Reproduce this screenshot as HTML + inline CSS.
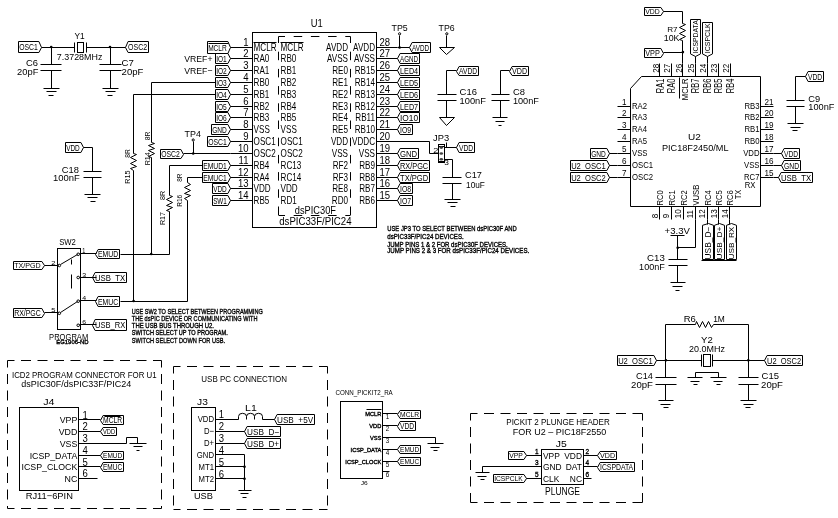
<!DOCTYPE html>
<html><head><meta charset="utf-8"><style>
html,body{margin:0;padding:0;background:#fff;}
body{width:838px;height:518px;overflow:hidden;}
svg{display:block;will-change:transform;}
svg *{stroke:#000;fill:none;stroke-width:1;}
svg text{stroke:none;fill:#000;font-family:"Liberation Sans",sans-serif;}
svg .k{fill:#000;stroke:none;}
svg text.b{}
svg text.n{font-weight:normal;stroke:#000;stroke-width:0.35px;}
</style></head><body>
<svg width="838" height="518" viewBox="0 0 838 518">
<polygon points="18.5,41.5 38.9,41.5 41.5,47.5 38.9,52.5 18.5,52.5"/>
<text class="b" x="19.13" y="50" font-size="8.7" textLength="18.64" lengthAdjust="spacingAndGlyphs">OSC1</text>
<line x1="41.5" y1="47.5" x2="74.5" y2="47.5"/>
<circle cx="51.2" cy="47" r="1.3" class="k"/>
<line x1="74.5" y1="42.5" x2="74.5" y2="52.5"/>
<rect x="77.5" y="42.5" width="6" height="10"/>
<line x1="86.5" y1="42.5" x2="86.5" y2="52.5"/>
<line x1="86.5" y1="47.5" x2="125.5" y2="47.5"/>
<circle cx="110" cy="47" r="1.3" class="k"/>
<polygon points="128.1,41.5 148.5,41.5 148.5,52.5 128.1,52.5 125.5,47.5"/>
<text class="b" x="128.03" y="50" font-size="8.7" textLength="19.14" lengthAdjust="spacingAndGlyphs">OSC2</text>
<text class="t" x="74.49" y="39.05" font-size="9.28" textLength="10.21" lengthAdjust="spacingAndGlyphs">Y1</text>
<text class="t" x="56.83" y="60.35" font-size="8.7" textLength="45.54" lengthAdjust="spacingAndGlyphs">7.3728MHz</text>
<line x1="51.5" y1="47.5" x2="51.5" y2="64.5"/>
<line x1="40.5" y1="64.5" x2="61.5" y2="64.5"/>
<line x1="40.5" y1="70.5" x2="61.5" y2="70.5"/>
<line x1="51.5" y1="70.5" x2="51.5" y2="88.5"/>
<line x1="43.5" y1="88.5" x2="59.5" y2="88.5"/>
<line x1="46.5" y1="91.5" x2="56.5" y2="91.5"/>
<line x1="48.5" y1="95.5" x2="53.5" y2="95.5"/>
<text class="t" x="26.13" y="66.15" font-size="8.7" textLength="11.94" lengthAdjust="spacingAndGlyphs">C6</text>
<text class="t" x="17.11" y="74.95" font-size="8.99" textLength="21.28" lengthAdjust="spacingAndGlyphs">20pF</text>
<line x1="110.5" y1="47.5" x2="110.5" y2="64.5"/>
<line x1="99.5" y1="64.5" x2="121.5" y2="64.5"/>
<line x1="99.5" y1="70.5" x2="121.5" y2="70.5"/>
<line x1="110.5" y1="70.5" x2="110.5" y2="88.5"/>
<line x1="102.5" y1="88.5" x2="118.5" y2="88.5"/>
<line x1="105.5" y1="91.5" x2="115.5" y2="91.5"/>
<line x1="107.5" y1="95.5" x2="112.5" y2="95.5"/>
<text class="t" x="121.63" y="66.15" font-size="8.7" textLength="12.24" lengthAdjust="spacingAndGlyphs">C7</text>
<text class="t" x="121.61" y="74.95" font-size="8.99" textLength="21.78" lengthAdjust="spacingAndGlyphs">20pF</text>
<rect x="252.5" y="32.5" width="124" height="195"/>
<text class="t" x="310.64" y="26.65" font-size="10.14" textLength="12.02" lengthAdjust="spacingAndGlyphs">U1</text>
<line x1="278.5" y1="36.5" x2="350.5" y2="36.5" stroke-dasharray="8.5 8.7" stroke-dashoffset="2"/>
<line x1="278.5" y1="215.5" x2="350.5" y2="215.5" stroke-dasharray="8.5 8.7" stroke-dashoffset="2"/>
<line x1="278.5" y1="36.5" x2="278.5" y2="215.5" stroke-dasharray="8.5 8.7" stroke-dashoffset="2"/>
<line x1="350.5" y1="36.5" x2="350.5" y2="215.5" stroke-dasharray="8.5 8.7" stroke-dashoffset="2"/>
<text class="t" transform="translate(253.6,50.7) scale(0.78,1)" font-size="10.4">MCLR</text>
<text class="t" transform="translate(280.6,50.7) scale(0.78,1)" font-size="10.4">MCLR</text>
<text class="t" transform="translate(348,50.7) scale(0.78,1)" font-size="10.4" text-anchor="end">AVDD</text>
<text class="t" transform="translate(375,50.7) scale(0.78,1)" font-size="10.4" text-anchor="end">AVDD</text>
<line x1="230.5" y1="47.5" x2="252.5" y2="47.5"/>
<line x1="376.5" y1="47.5" x2="397.5" y2="47.5"/>
<text class="t" transform="translate(248.5,45.9) scale(0.9,1)" font-size="10.6" text-anchor="end">1</text>
<text class="t" transform="translate(379.5,45.9) scale(0.9,1)" font-size="10.6">28</text>
<text class="t" transform="translate(253.6,61.7) scale(0.78,1)" font-size="10.4">RA0</text>
<text class="t" transform="translate(280.6,61.7) scale(0.78,1)" font-size="10.4">RB0</text>
<text class="t" transform="translate(348,61.7) scale(0.78,1)" font-size="10.4" text-anchor="end">AVSS</text>
<text class="t" transform="translate(375,61.7) scale(0.78,1)" font-size="10.4" text-anchor="end">AVSS</text>
<line x1="230.5" y1="58.5" x2="252.5" y2="58.5"/>
<line x1="376.5" y1="58.5" x2="397.5" y2="58.5"/>
<text class="t" transform="translate(248.5,56.9) scale(0.9,1)" font-size="10.6" text-anchor="end">2</text>
<text class="t" transform="translate(379.5,56.9) scale(0.9,1)" font-size="10.6">27</text>
<text class="t" transform="translate(253.6,73.7) scale(0.78,1)" font-size="10.4">RA1</text>
<text class="t" transform="translate(280.6,73.7) scale(0.78,1)" font-size="10.4">RB1</text>
<text class="t" transform="translate(348,73.7) scale(0.78,1)" font-size="10.4" text-anchor="end">RE0</text>
<text class="t" transform="translate(375,73.7) scale(0.78,1)" font-size="10.4" text-anchor="end">RB15</text>
<line x1="230.5" y1="70.5" x2="252.5" y2="70.5"/>
<line x1="376.5" y1="70.5" x2="397.5" y2="70.5"/>
<text class="t" transform="translate(248.5,68.9) scale(0.9,1)" font-size="10.6" text-anchor="end">3</text>
<text class="t" transform="translate(379.5,68.9) scale(0.9,1)" font-size="10.6">26</text>
<text class="t" transform="translate(253.6,85.7) scale(0.78,1)" font-size="10.4">RB0</text>
<text class="t" transform="translate(280.6,85.7) scale(0.78,1)" font-size="10.4">RB2</text>
<text class="t" transform="translate(348,85.7) scale(0.78,1)" font-size="10.4" text-anchor="end">RE1</text>
<text class="t" transform="translate(375,85.7) scale(0.78,1)" font-size="10.4" text-anchor="end">RB14</text>
<line x1="230.5" y1="82.5" x2="252.5" y2="82.5"/>
<line x1="376.5" y1="82.5" x2="397.5" y2="82.5"/>
<text class="t" transform="translate(248.5,80.9) scale(0.9,1)" font-size="10.6" text-anchor="end">4</text>
<text class="t" transform="translate(379.5,80.9) scale(0.9,1)" font-size="10.6">25</text>
<text class="t" transform="translate(253.6,97.7) scale(0.78,1)" font-size="10.4">RB1</text>
<text class="t" transform="translate(280.6,97.7) scale(0.78,1)" font-size="10.4">RB3</text>
<text class="t" transform="translate(348,97.7) scale(0.78,1)" font-size="10.4" text-anchor="end">RE2</text>
<text class="t" transform="translate(375,97.7) scale(0.78,1)" font-size="10.4" text-anchor="end">RB13</text>
<line x1="230.5" y1="94.5" x2="252.5" y2="94.5"/>
<line x1="376.5" y1="94.5" x2="397.5" y2="94.5"/>
<text class="t" transform="translate(248.5,92.9) scale(0.9,1)" font-size="10.6" text-anchor="end">5</text>
<text class="t" transform="translate(379.5,92.9) scale(0.9,1)" font-size="10.6">24</text>
<text class="t" transform="translate(253.6,109.7) scale(0.78,1)" font-size="10.4">RB2</text>
<text class="t" transform="translate(280.6,109.7) scale(0.78,1)" font-size="10.4">RB4</text>
<text class="t" transform="translate(348,109.7) scale(0.78,1)" font-size="10.4" text-anchor="end">RE3</text>
<text class="t" transform="translate(375,109.7) scale(0.78,1)" font-size="10.4" text-anchor="end">RB12</text>
<line x1="230.5" y1="106.5" x2="252.5" y2="106.5"/>
<line x1="376.5" y1="106.5" x2="397.5" y2="106.5"/>
<text class="t" transform="translate(248.5,104.9) scale(0.9,1)" font-size="10.6" text-anchor="end">6</text>
<text class="t" transform="translate(379.5,104.9) scale(0.9,1)" font-size="10.6">23</text>
<text class="t" transform="translate(253.6,120.7) scale(0.78,1)" font-size="10.4">RB3</text>
<text class="t" transform="translate(280.6,120.7) scale(0.78,1)" font-size="10.4">RB5</text>
<text class="t" transform="translate(348,120.7) scale(0.78,1)" font-size="10.4" text-anchor="end">RE4</text>
<text class="t" transform="translate(375,120.7) scale(0.78,1)" font-size="10.4" text-anchor="end">RB11</text>
<line x1="230.5" y1="117.5" x2="252.5" y2="117.5"/>
<line x1="376.5" y1="117.5" x2="397.5" y2="117.5"/>
<text class="t" transform="translate(248.5,115.9) scale(0.9,1)" font-size="10.6" text-anchor="end">7</text>
<text class="t" transform="translate(379.5,115.9) scale(0.9,1)" font-size="10.6">22</text>
<text class="t" transform="translate(253.6,132.7) scale(0.78,1)" font-size="10.4">VSS</text>
<text class="t" transform="translate(280.6,132.7) scale(0.78,1)" font-size="10.4">VSS</text>
<text class="t" transform="translate(348,132.7) scale(0.78,1)" font-size="10.4" text-anchor="end">RE5</text>
<text class="t" transform="translate(375,132.7) scale(0.78,1)" font-size="10.4" text-anchor="end">RB10</text>
<line x1="230.5" y1="129.5" x2="252.5" y2="129.5"/>
<line x1="376.5" y1="129.5" x2="397.5" y2="129.5"/>
<text class="t" transform="translate(248.5,127.9) scale(0.9,1)" font-size="10.6" text-anchor="end">8</text>
<text class="t" transform="translate(379.5,127.9) scale(0.9,1)" font-size="10.6">21</text>
<text class="t" transform="translate(253.6,144.7) scale(0.78,1)" font-size="10.4">OSC1</text>
<text class="t" transform="translate(280.6,144.7) scale(0.78,1)" font-size="10.4">OSC1</text>
<text class="t" transform="translate(348,144.7) scale(0.78,1)" font-size="10.4" text-anchor="end">VDD</text>
<text class="t" transform="translate(375,144.7) scale(0.78,1)" font-size="10.4" text-anchor="end">VDDC</text>
<line x1="230.5" y1="141.5" x2="252.5" y2="141.5"/>
<line x1="376.5" y1="141.5" x2="397.5" y2="141.5"/>
<text class="t" transform="translate(248.5,139.9) scale(0.9,1)" font-size="10.6" text-anchor="end">9</text>
<text class="t" transform="translate(379.5,139.9) scale(0.9,1)" font-size="10.6">20</text>
<text class="t" transform="translate(253.6,156.7) scale(0.78,1)" font-size="10.4">OSC2</text>
<text class="t" transform="translate(280.6,156.7) scale(0.78,1)" font-size="10.4">OSC2</text>
<text class="t" transform="translate(348,156.7) scale(0.78,1)" font-size="10.4" text-anchor="end">VSS</text>
<text class="t" transform="translate(375,156.7) scale(0.78,1)" font-size="10.4" text-anchor="end">VSS</text>
<line x1="230.5" y1="153.5" x2="252.5" y2="153.5"/>
<line x1="376.5" y1="153.5" x2="397.5" y2="153.5"/>
<text class="t" transform="translate(248.5,151.9) scale(0.9,1)" font-size="10.6" text-anchor="end">10</text>
<text class="t" transform="translate(379.5,151.9) scale(0.9,1)" font-size="10.6">19</text>
<text class="t" transform="translate(253.6,168.7) scale(0.78,1)" font-size="10.4">RB4</text>
<text class="t" transform="translate(280.6,168.7) scale(0.78,1)" font-size="10.4">RC13</text>
<text class="t" transform="translate(348,168.7) scale(0.78,1)" font-size="10.4" text-anchor="end">RF2</text>
<text class="t" transform="translate(375,168.7) scale(0.78,1)" font-size="10.4" text-anchor="end">RB9</text>
<line x1="230.5" y1="165.5" x2="252.5" y2="165.5"/>
<line x1="376.5" y1="165.5" x2="397.5" y2="165.5"/>
<text class="t" transform="translate(248.5,163.9) scale(0.9,1)" font-size="10.6" text-anchor="end">11</text>
<text class="t" transform="translate(379.5,163.9) scale(0.9,1)" font-size="10.6">18</text>
<text class="t" transform="translate(253.6,180.7) scale(0.78,1)" font-size="10.4">RA4</text>
<text class="t" transform="translate(280.6,180.7) scale(0.78,1)" font-size="10.4">RC14</text>
<text class="t" transform="translate(348,180.7) scale(0.78,1)" font-size="10.4" text-anchor="end">RF3</text>
<text class="t" transform="translate(375,180.7) scale(0.78,1)" font-size="10.4" text-anchor="end">RB8</text>
<line x1="230.5" y1="177.5" x2="252.5" y2="177.5"/>
<line x1="376.5" y1="177.5" x2="397.5" y2="177.5"/>
<text class="t" transform="translate(248.5,175.9) scale(0.9,1)" font-size="10.6" text-anchor="end">12</text>
<text class="t" transform="translate(379.5,175.9) scale(0.9,1)" font-size="10.6">17</text>
<text class="t" transform="translate(253.6,191.7) scale(0.78,1)" font-size="10.4">VDD</text>
<text class="t" transform="translate(280.6,191.7) scale(0.78,1)" font-size="10.4">VDD</text>
<text class="t" transform="translate(348,191.7) scale(0.78,1)" font-size="10.4" text-anchor="end">RE8</text>
<text class="t" transform="translate(375,191.7) scale(0.78,1)" font-size="10.4" text-anchor="end">RB7</text>
<line x1="230.5" y1="188.5" x2="252.5" y2="188.5"/>
<line x1="376.5" y1="188.5" x2="397.5" y2="188.5"/>
<text class="t" transform="translate(248.5,186.9) scale(0.9,1)" font-size="10.6" text-anchor="end">13</text>
<text class="t" transform="translate(379.5,186.9) scale(0.9,1)" font-size="10.6">16</text>
<text class="t" transform="translate(253.6,203.7) scale(0.78,1)" font-size="10.4">RB5</text>
<text class="t" transform="translate(280.6,203.7) scale(0.78,1)" font-size="10.4">RD1</text>
<text class="t" transform="translate(348,203.7) scale(0.78,1)" font-size="10.4" text-anchor="end">RD0</text>
<text class="t" transform="translate(375,203.7) scale(0.78,1)" font-size="10.4" text-anchor="end">RB6</text>
<line x1="230.5" y1="200.5" x2="252.5" y2="200.5"/>
<line x1="376.5" y1="200.5" x2="397.5" y2="200.5"/>
<text class="t" transform="translate(248.5,198.9) scale(0.9,1)" font-size="10.6" text-anchor="end">14</text>
<text class="t" transform="translate(379.5,198.9) scale(0.9,1)" font-size="10.6">15</text>
<line x1="253.5" y1="42.5" x2="276.5" y2="42.5"/>
<line x1="280.5" y1="42.5" x2="303.5" y2="42.5"/>
<text class="t" x="294.83" y="213.95" font-size="10.29" textLength="41.13" lengthAdjust="spacingAndGlyphs">dsPIC30F</text>
<text class="t" x="279.22" y="225.05" font-size="10.58" textLength="72.27" lengthAdjust="spacingAndGlyphs">dsPIC33F/PIC24</text>
<polygon points="207.5,41.5 227.9,41.5 230.5,47.5 227.9,53.5 207.5,53.5"/>
<text class="b" x="208.13" y="50.5" font-size="8.7" textLength="18.64" lengthAdjust="spacingAndGlyphs">MCLR</text>
<line x1="208.5" y1="43.5" x2="228.5" y2="43.5"/>
<polygon points="215.5,53.5 227.9,53.5 230.5,58.5 227.9,63.5 215.5,63.5"/>
<text class="b" x="216.13" y="61.5" font-size="8.7" textLength="10.64" lengthAdjust="spacingAndGlyphs">IO1</text>
<polygon points="215.5,65.5 227.9,65.5 230.5,70.5 227.9,75.5 215.5,75.5"/>
<text class="b" x="216.13" y="73.5" font-size="8.7" textLength="10.64" lengthAdjust="spacingAndGlyphs">IO2</text>
<polygon points="215.5,77.5 227.9,77.5 230.5,82.5 227.9,87.5 215.5,87.5"/>
<text class="b" x="216.13" y="85.5" font-size="8.7" textLength="10.64" lengthAdjust="spacingAndGlyphs">IO3</text>
<polygon points="215.5,89.5 227.9,89.5 230.5,94.5 227.9,99.5 215.5,99.5"/>
<text class="b" x="216.13" y="97.5" font-size="8.7" textLength="10.64" lengthAdjust="spacingAndGlyphs">IO4</text>
<polygon points="215.5,101.5 227.9,101.5 230.5,106.5 227.9,111.5 215.5,111.5"/>
<text class="b" x="216.13" y="109.5" font-size="8.7" textLength="10.64" lengthAdjust="spacingAndGlyphs">IO5</text>
<polygon points="215.5,112.5 227.9,112.5 230.5,117.5 227.9,122.5 215.5,122.5"/>
<text class="b" x="216.13" y="120.5" font-size="8.7" textLength="10.64" lengthAdjust="spacingAndGlyphs">IO6</text>
<polygon points="211.5,124.5 227.9,124.5 230.5,129.5 227.9,134.5 211.5,134.5"/>
<text class="b" x="212.13" y="132.5" font-size="8.7" textLength="14.64" lengthAdjust="spacingAndGlyphs">GND</text>
<polygon points="207.5,136.5 227.9,136.5 230.5,141.5 227.9,146.5 207.5,146.5"/>
<text class="b" x="208.13" y="144.5" font-size="8.7" textLength="18.64" lengthAdjust="spacingAndGlyphs">OSC1</text>
<line x1="183.5" y1="153.5" x2="230.5" y2="153.5"/>
<polygon points="202.5,160.5 227.9,160.5 230.5,165.5 227.9,170.5 202.5,170.5"/>
<text class="b" x="203.13" y="168.5" font-size="8.7" textLength="23.64" lengthAdjust="spacingAndGlyphs">EMUD1</text>
<polygon points="202.5,172.5 227.9,172.5 230.5,177.5 227.9,182.5 202.5,182.5"/>
<text class="b" x="203.13" y="180.5" font-size="8.7" textLength="23.64" lengthAdjust="spacingAndGlyphs">EMUC1</text>
<polygon points="212.5,183.5 227.9,183.5 230.5,188.5 227.9,193.5 212.5,193.5"/>
<text class="b" x="213.13" y="191.5" font-size="8.7" textLength="13.64" lengthAdjust="spacingAndGlyphs">VDD</text>
<polygon points="212.5,195.5 227.9,195.5 230.5,200.5 227.9,205.5 212.5,205.5"/>
<text class="b" x="213.13" y="203.5" font-size="8.7" textLength="13.64" lengthAdjust="spacingAndGlyphs">SW1</text>
<text class="t" x="184.29" y="62.05" font-size="9.28" textLength="28.21" lengthAdjust="spacingAndGlyphs">VREF+</text>
<text class="t" x="184.29" y="74.35" font-size="9.28" textLength="28.21" lengthAdjust="spacingAndGlyphs">VREF−</text>
<line x1="397.5" y1="47.5" x2="409.5" y2="47.5"/>
<polygon points="412.1,42.5 430.5,42.5 430.5,52.5 412.1,52.5 409.5,47.5"/>
<text class="b" x="412.03" y="50.5" font-size="8.7" textLength="17.14" lengthAdjust="spacingAndGlyphs">AVDD</text>
<polygon points="400.1,53.5 419.5,53.5 419.5,63.5 400.1,63.5 397.5,58.5"/>
<text class="b" x="400.03" y="61.5" font-size="8.7" textLength="18.14" lengthAdjust="spacingAndGlyphs">AGND</text>
<polygon points="400.1,65.5 419.5,65.5 419.5,75.5 400.1,75.5 397.5,70.5"/>
<text class="b" x="400.03" y="73.5" font-size="8.7" textLength="18.14" lengthAdjust="spacingAndGlyphs">LED4</text>
<polygon points="400.1,77.5 419.5,77.5 419.5,87.5 400.1,87.5 397.5,82.5"/>
<text class="b" x="400.03" y="85.5" font-size="8.7" textLength="18.14" lengthAdjust="spacingAndGlyphs">LED5</text>
<polygon points="400.1,89.5 419.5,89.5 419.5,99.5 400.1,99.5 397.5,94.5"/>
<text class="b" x="400.03" y="97.5" font-size="8.7" textLength="18.14" lengthAdjust="spacingAndGlyphs">LED6</text>
<polygon points="400.1,101.5 419.5,101.5 419.5,111.5 400.1,111.5 397.5,106.5"/>
<text class="b" x="400.03" y="109.5" font-size="8.7" textLength="18.14" lengthAdjust="spacingAndGlyphs">LED7</text>
<polygon points="400.1,112.5 419.5,112.5 419.5,122.5 400.1,122.5 397.5,117.5"/>
<text class="b" x="400.03" y="120.5" font-size="8.7" textLength="18.14" lengthAdjust="spacingAndGlyphs">IO10</text>
<polygon points="400.1,124.5 412.5,124.5 412.5,134.5 400.1,134.5 397.5,129.5"/>
<text class="b" x="400.03" y="132.5" font-size="8.7" textLength="11.14" lengthAdjust="spacingAndGlyphs">IO9</text>
<polygon points="400.1,148.5 418.5,148.5 418.5,158.5 400.1,158.5 397.5,153.5"/>
<text class="b" x="400.03" y="156.5" font-size="8.7" textLength="17.14" lengthAdjust="spacingAndGlyphs">GND</text>
<polygon points="400.1,160.5 429.5,160.5 429.5,170.5 400.1,170.5 397.5,165.5"/>
<text class="b" x="400.03" y="168.5" font-size="8.7" textLength="28.14" lengthAdjust="spacingAndGlyphs">RX/PGC</text>
<polygon points="400.1,172.5 429.5,172.5 429.5,182.5 400.1,182.5 397.5,177.5"/>
<text class="b" x="400.03" y="180.5" font-size="8.7" textLength="28.14" lengthAdjust="spacingAndGlyphs">TX/PGD</text>
<polygon points="400.1,183.5 412.5,183.5 412.5,193.5 400.1,193.5 397.5,188.5"/>
<text class="b" x="400.03" y="191.5" font-size="8.7" textLength="11.14" lengthAdjust="spacingAndGlyphs">IO8</text>
<polygon points="400.1,195.5 412.5,195.5 412.5,205.5 400.1,205.5 397.5,200.5"/>
<text class="b" x="400.03" y="203.5" font-size="8.7" textLength="11.14" lengthAdjust="spacingAndGlyphs">IO7</text>
<circle cx="399.6" cy="33.8" r="1.1"/>
<line x1="399.5" y1="35.5" x2="399.5" y2="47.5"/>
<circle cx="399.6" cy="47.5" r="1.3" class="k"/>
<text class="t" x="391.6" y="31.35" font-size="9.13" textLength="16.2" lengthAdjust="spacingAndGlyphs">TP5</text>
<circle cx="446.8" cy="33.8" r="1.1"/>
<line x1="446.5" y1="35.5" x2="446.5" y2="47.5"/>
<polygon points="439.5,47.5 454.5,47.5 446.5,54.5"/>
<text class="t" x="438.6" y="31.35" font-size="9.13" textLength="16.1" lengthAdjust="spacingAndGlyphs">TP6</text>
<polygon points="459.1,66.5 478.5,66.5 478.5,75.5 459.1,75.5 456.5,71.5"/>
<text class="b" x="459.03" y="74" font-size="8.7" textLength="18.14" lengthAdjust="spacingAndGlyphs">AVDD</text>
<polyline points="456.5,70.5 446.5,70.5 446.5,94.5"/>
<line x1="437.5" y1="94.5" x2="456.5" y2="94.5"/>
<line x1="437.5" y1="100.5" x2="456.5" y2="100.5"/>
<line x1="446.5" y1="100.5" x2="446.5" y2="117.5"/>
<polygon points="439.5,117.5 454.5,117.5 446.5,125.5"/>
<text class="t" x="459.6" y="95.35" font-size="9.13" textLength="17.3" lengthAdjust="spacingAndGlyphs">C16</text>
<text class="t" x="459.59" y="104.05" font-size="9.28" textLength="26.31" lengthAdjust="spacingAndGlyphs">100nF</text>
<polygon points="512.1,66.5 528.5,66.5 528.5,75.5 512.1,75.5 509.5,71.5"/>
<text class="b" x="512.03" y="74" font-size="8.7" textLength="15.14" lengthAdjust="spacingAndGlyphs">VDD</text>
<polyline points="509.5,70.5 500.5,70.5 500.5,94.5"/>
<line x1="491.5" y1="94.5" x2="509.5" y2="94.5"/>
<line x1="491.5" y1="100.5" x2="509.5" y2="100.5"/>
<line x1="500.5" y1="100.5" x2="500.5" y2="117.5"/>
<line x1="492.5" y1="117.5" x2="507.5" y2="117.5"/>
<line x1="495.5" y1="121.5" x2="504.5" y2="121.5"/>
<line x1="498.5" y1="125.5" x2="501.5" y2="125.5"/>
<text class="t" x="512.9" y="95.35" font-size="9.13" textLength="12" lengthAdjust="spacingAndGlyphs">C8</text>
<text class="t" x="512.89" y="104.05" font-size="9.28" textLength="26.01" lengthAdjust="spacingAndGlyphs">100nF</text>
<polyline points="396.5,141.5 429.5,141.5 429.5,153.5 438.5,153.5"/>
<rect x="438.5" y="144.5" width="6" height="18"/>
<line x1="438.5" y1="146.5" x2="444.5" y2="146.5"/>
<line x1="438.5" y1="161.5" x2="444.5" y2="161.5"/>
<ellipse cx="441.3" cy="147.6" rx="1.8" ry="1.3" style="fill:#444;stroke:none"/>
<ellipse cx="441.3" cy="153.5" rx="1.8" ry="1.3" style="fill:#444;stroke:none"/>
<ellipse cx="441.3" cy="159.2" rx="1.8" ry="1.3" style="fill:#444;stroke:none"/>
<line x1="444.5" y1="147.5" x2="456.5" y2="147.5"/>
<line x1="446.5" y1="142.5" x2="446.5" y2="147.5"/>
<polyline points="444.5,159.5 452.5,159.5 452.5,177.5"/>
<polygon points="459.1,142.5 474.5,142.5 474.5,152.5 459.1,152.5 456.5,147.5"/>
<text class="b" x="459.03" y="150.5" font-size="8.7" textLength="14.14" lengthAdjust="spacingAndGlyphs">VDD</text>
<text class="t" x="433.01" y="140.85" font-size="8.99" textLength="16.08" lengthAdjust="spacingAndGlyphs">JP3</text>
<text class="t" x="433.15" y="152.85" font-size="6.67" textLength="5.1" lengthAdjust="spacingAndGlyphs">2</text>
<text class="t" x="444.2" y="165.15" font-size="7.54" textLength="4.6" lengthAdjust="spacingAndGlyphs">3</text>
<line x1="442.5" y1="177.5" x2="461.5" y2="177.5"/>
<line x1="442.5" y1="183.5" x2="461.5" y2="183.5"/>
<line x1="452.5" y1="183.5" x2="452.5" y2="199.5"/>
<line x1="444.5" y1="199.5" x2="460.5" y2="199.5"/>
<line x1="447.5" y1="202.5" x2="457.5" y2="202.5"/>
<line x1="450.5" y1="206.5" x2="455.5" y2="206.5"/>
<text class="t" x="465.11" y="178.35" font-size="8.99" textLength="16.78" lengthAdjust="spacingAndGlyphs">C17</text>
<text class="t" x="466.11" y="187.85" font-size="8.99" textLength="18.78" lengthAdjust="spacingAndGlyphs">10uF</text>
<text class="n" x="387.22" y="231.35" font-size="7.25" textLength="129.57" lengthAdjust="spacingAndGlyphs">USE JP3 TO SELECT BETWEEN dsPIC30F AND</text>
<text class="n" x="387.22" y="239.35" font-size="7.25" textLength="76.57" lengthAdjust="spacingAndGlyphs">dsPIC33F/PIC24 DEVICES.</text>
<text class="n" x="387.22" y="247.05" font-size="7.1" textLength="120.55" lengthAdjust="spacingAndGlyphs">JUMP PINS 1 &amp; 2 FOR dsPIC30F DEVICES.</text>
<text class="n" x="387.22" y="253.15" font-size="7.1" textLength="142.05" lengthAdjust="spacingAndGlyphs">JUMP PINS 2 &amp; 3 FOR dsPIC33F/PIC24 DEVICES.</text>
<polygon points="65.5,142.5 80.9,142.5 83.5,147.5 80.9,152.5 65.5,152.5"/>
<text class="b" x="66.13" y="150.5" font-size="8.7" textLength="13.64" lengthAdjust="spacingAndGlyphs">VDD</text>
<polyline points="83.5,147.5 92.5,147.5 92.5,171.5"/>
<line x1="83.5" y1="171.5" x2="101.5" y2="171.5"/>
<line x1="83.5" y1="177.5" x2="101.5" y2="177.5"/>
<line x1="92.5" y1="177.5" x2="92.5" y2="194.5"/>
<line x1="84.5" y1="194.5" x2="100.5" y2="194.5"/>
<line x1="87.5" y1="197.5" x2="97.5" y2="197.5"/>
<line x1="90.5" y1="201.5" x2="95.5" y2="201.5"/>
<text class="t" x="61.77" y="172.85" font-size="9.71" textLength="17.17" lengthAdjust="spacingAndGlyphs">C18</text>
<text class="t" x="53.11" y="181.35" font-size="8.99" textLength="26.78" lengthAdjust="spacingAndGlyphs">100nF</text>
<polyline points="215.5,82.5 151.5,82.5 151.5,142.5"/>
<polyline points="151.5,142.5 154.5,143.5 148.5,145.5 154.5,148.5 148.5,150.5 154.5,153.5 148.5,156.5 151.5,157.5"/>
<polyline points="151.5,157.5 151.5,254.5"/>
<polyline points="215.5,94.5 133.5,94.5 133.5,153.5"/>
<polyline points="133.5,153.5 136.5,154.5 130.5,157.5 136.5,160.5 130.5,163.5 136.5,166.5 130.5,168.5 133.5,170.5"/>
<polyline points="133.5,170.5 133.5,301.5"/>
<text class="t" transform="translate(129.85,157.35) rotate(-90)" x="-0.4" y="0" font-size="6.67" textLength="8.5" lengthAdjust="spacingAndGlyphs">8R</text>
<text class="t" transform="translate(129.85,183.35) rotate(-90)" x="-0.4" y="0" font-size="6.67" textLength="13.2" lengthAdjust="spacingAndGlyphs">R15</text>
<text class="t" transform="translate(149.85,139.85) rotate(-90)" x="-0.41" y="0" font-size="6.81" textLength="8.72" lengthAdjust="spacingAndGlyphs">8R</text>
<text class="t" transform="translate(149.85,164.95) rotate(-90)" x="-0.41" y="0" font-size="6.81" textLength="13.12" lengthAdjust="spacingAndGlyphs">R14</text>
<polygon points="160.5,149.5 180.9,149.5 183.5,154.5 180.9,158.5 160.5,158.5"/>
<text class="b" x="161.13" y="157" font-size="8.7" textLength="18.64" lengthAdjust="spacingAndGlyphs">OSC2</text>
<circle cx="193.2" cy="140" r="1.1"/>
<line x1="193.5" y1="141.5" x2="193.5" y2="153.5"/>
<circle cx="193.2" cy="153.5" r="1.3" class="k"/>
<text class="t" x="184.6" y="137.35" font-size="9.13" textLength="16.3" lengthAdjust="spacingAndGlyphs">TP4</text>
<polyline points="202.5,165.5 169.5,165.5 169.5,195.5"/>
<polyline points="169.5,195.5 172.5,196.5 166.5,199.5 172.5,202.5 166.5,205.5 172.5,207.5 166.5,210.5 169.5,211.5"/>
<polyline points="169.5,211.5 169.5,254.5"/>
<text class="t" transform="translate(165.35,199.65) rotate(-90)" x="-0.38" y="0" font-size="6.38" textLength="9.17" lengthAdjust="spacingAndGlyphs">8R</text>
<text class="t" transform="translate(165.35,224.75) rotate(-90)" x="-0.38" y="0" font-size="6.38" textLength="13.07" lengthAdjust="spacingAndGlyphs">R17</text>
<polyline points="202.5,177.5 187.5,177.5 187.5,182.5"/>
<polyline points="187.5,182.5 190.5,184.5 184.5,187.5 190.5,190.5 184.5,193.5 190.5,195.5 184.5,198.5 187.5,200.5"/>
<polyline points="187.5,200.5 187.5,301.5"/>
<text class="t" transform="translate(182.35,181.35) rotate(-90)" x="-0.38" y="0" font-size="6.38" textLength="8.27" lengthAdjust="spacingAndGlyphs">8R</text>
<text class="t" transform="translate(182.35,206.35) rotate(-90)" x="-0.38" y="0" font-size="6.38" textLength="11.97" lengthAdjust="spacingAndGlyphs">R16</text>
<rect x="57.5" y="248.5" width="23" height="81"/>
<text class="t" x="59.15" y="245.35" font-size="8.26" textLength="16.69" lengthAdjust="spacingAndGlyphs">SW2</text>
<circle cx="78.2" cy="254.3" r="1.3"/>
<line x1="79.5" y1="253.5" x2="96.5" y2="253.5"/>
<circle cx="78.2" cy="277.5" r="1.3"/>
<line x1="79.5" y1="277.5" x2="96.5" y2="277.5"/>
<circle cx="78.2" cy="301.2" r="1.3"/>
<line x1="79.5" y1="300.5" x2="96.5" y2="300.5"/>
<circle cx="78.2" cy="325.3" r="1.3"/>
<line x1="79.5" y1="324.5" x2="96.5" y2="324.5"/>
<circle cx="59.3" cy="265.5" r="1.3"/>
<line x1="44.5" y1="265.5" x2="58.5" y2="265.5"/>
<circle cx="59.3" cy="313.3" r="1.3"/>
<line x1="44.5" y1="312.5" x2="58.5" y2="312.5"/>
<line x1="60.5" y1="264.5" x2="77.5" y2="254.5"/>
<line x1="60.5" y1="312.5" x2="77.5" y2="301.5"/>
<line x1="71.5" y1="259.5" x2="71.5" y2="264.5"/>
<line x1="71.5" y1="274.5" x2="71.5" y2="288.5"/>
<text class="t" x="82.26" y="252.85" font-size="6.52" textLength="3.08" lengthAdjust="spacingAndGlyphs">1</text>
<text class="t" x="51.28" y="264.55" font-size="6.23" textLength="4.25" lengthAdjust="spacingAndGlyphs">2</text>
<text class="t" x="82.2" y="276.65" font-size="5.8" textLength="3.9" lengthAdjust="spacingAndGlyphs">3</text>
<text class="t" x="82.2" y="300.35" font-size="5.8" textLength="3.9" lengthAdjust="spacingAndGlyphs">4</text>
<text class="t" x="51.28" y="312.35" font-size="6.09" textLength="4.23" lengthAdjust="spacingAndGlyphs">5</text>
<text class="t" x="82.19" y="324.35" font-size="5.94" textLength="3.91" lengthAdjust="spacingAndGlyphs">6</text>
<polygon points="98.1,249.5 119.5,249.5 119.5,258.5 98.1,258.5 95.5,254.5"/>
<text class="b" x="98.03" y="257" font-size="8.7" textLength="20.14" lengthAdjust="spacingAndGlyphs">EMUD</text>
<polygon points="95.1,272.5 126.5,272.5 126.5,282.5 95.1,282.5 92.5,277.5"/>
<text class="b" x="95.03" y="280.5" font-size="8.7" textLength="30.14" lengthAdjust="spacingAndGlyphs">USB_TX</text>
<polygon points="98.1,296.5 119.5,296.5 119.5,306.5 98.1,306.5 95.5,301.5"/>
<text class="b" x="98.03" y="304.5" font-size="8.7" textLength="20.14" lengthAdjust="spacingAndGlyphs">EMUC</text>
<polygon points="95.1,319.5 126.5,319.5 126.5,330.5 95.1,330.5 92.5,325.5"/>
<text class="b" x="95.03" y="328" font-size="8.7" textLength="30.14" lengthAdjust="spacingAndGlyphs">USB_RX</text>
<polygon points="13.5,261.5 41.9,261.5 44.5,265.5 41.9,269.5 13.5,269.5"/>
<text class="b" x="14.17" y="268.25" font-size="7.97" textLength="26.56" lengthAdjust="spacingAndGlyphs">TX/PGD</text>
<polygon points="13.5,308.5 41.9,308.5 44.5,313.5 41.9,317.5 13.5,317.5"/>
<text class="b" x="14.13" y="316" font-size="8.7" textLength="26.64" lengthAdjust="spacingAndGlyphs">RX/PGC</text>
<line x1="120.5" y1="254.5" x2="169.5" y2="254.5"/>
<circle cx="151.2" cy="254" r="1.3" class="k"/>
<line x1="120.5" y1="301.5" x2="187.5" y2="301.5"/>
<circle cx="133.6" cy="301" r="1.3" class="k"/>
<text class="t" x="49.1" y="339.95" font-size="9.13" textLength="39.1" lengthAdjust="spacingAndGlyphs">PROGRAM</text>
<text class="n" x="56.28" y="344.35" font-size="6.09" textLength="32.23" lengthAdjust="spacingAndGlyphs">EG1906-ND</text>
<text class="n" x="131.82" y="314.05" font-size="7.1" textLength="130.95" lengthAdjust="spacingAndGlyphs">USE SW2 TO SELECT BETWEEN PROGRAMMING</text>
<text class="n" x="131.82" y="321.35" font-size="7.1" textLength="125.65" lengthAdjust="spacingAndGlyphs">THE dsPIC DEVICE OR COMMUNICATING WITH</text>
<text class="n" x="131.83" y="328.35" font-size="6.96" textLength="82.13" lengthAdjust="spacingAndGlyphs">THE USB BUS THROUGH U2.</text>
<text class="n" x="131.84" y="335.35" font-size="6.81" textLength="95.92" lengthAdjust="spacingAndGlyphs">SWITCH SELECT UP TO PROGRAM.</text>
<text class="n" x="131.82" y="342.85" font-size="7.25" textLength="93.27" lengthAdjust="spacingAndGlyphs">SWITCH SELECT DOWN FOR USB.</text>
<polygon points="641.5,76.5 760.5,76.5 760.5,206.5 630.5,206.5 630.5,88.5"/>
<text class="t" x="688.11" y="139.85" font-size="8.99" textLength="12.78" lengthAdjust="spacingAndGlyphs">U2</text>
<text class="t" x="661.9" y="150.95" font-size="9.13" textLength="66.6" lengthAdjust="spacingAndGlyphs">PIC18F2450/ML</text>
<line x1="617.5" y1="106.5" x2="630.5" y2="106.5"/>
<line x1="760.5" y1="106.5" x2="773.5" y2="106.5"/>
<text class="t" transform="translate(632,109.3) scale(0.86,1)" font-size="9">RA2</text>
<text class="t" transform="translate(759.5,109.3) scale(0.86,1)" font-size="9" text-anchor="end">RB3</text>
<text class="t" transform="translate(626.5,104.8) scale(0.9,1)" font-size="9" text-anchor="end">1</text>
<text class="t" transform="translate(764.5,104.8) scale(0.9,1)" font-size="9">21</text>
<line x1="617.5" y1="117.5" x2="630.5" y2="117.5"/>
<line x1="760.5" y1="117.5" x2="773.5" y2="117.5"/>
<text class="t" transform="translate(632,120.3) scale(0.86,1)" font-size="9">RA3</text>
<text class="t" transform="translate(759.5,120.3) scale(0.86,1)" font-size="9" text-anchor="end">RB2</text>
<text class="t" transform="translate(626.5,115.8) scale(0.9,1)" font-size="9" text-anchor="end">2</text>
<text class="t" transform="translate(764.5,115.8) scale(0.9,1)" font-size="9">20</text>
<line x1="617.5" y1="129.5" x2="630.5" y2="129.5"/>
<line x1="760.5" y1="129.5" x2="773.5" y2="129.5"/>
<text class="t" transform="translate(632,132.3) scale(0.86,1)" font-size="9">RA4</text>
<text class="t" transform="translate(759.5,132.3) scale(0.86,1)" font-size="9" text-anchor="end">RB1</text>
<text class="t" transform="translate(626.5,127.8) scale(0.9,1)" font-size="9" text-anchor="end">3</text>
<text class="t" transform="translate(764.5,127.8) scale(0.9,1)" font-size="9">19</text>
<line x1="617.5" y1="141.5" x2="630.5" y2="141.5"/>
<line x1="760.5" y1="141.5" x2="773.5" y2="141.5"/>
<text class="t" transform="translate(632,144.3) scale(0.86,1)" font-size="9">RA5</text>
<text class="t" transform="translate(759.5,144.3) scale(0.86,1)" font-size="9" text-anchor="end">RB0</text>
<text class="t" transform="translate(626.5,139.8) scale(0.9,1)" font-size="9" text-anchor="end">4</text>
<text class="t" transform="translate(764.5,139.8) scale(0.9,1)" font-size="9">18</text>
<line x1="617.5" y1="153.5" x2="630.5" y2="153.5"/>
<line x1="760.5" y1="153.5" x2="773.5" y2="153.5"/>
<text class="t" transform="translate(632,156.3) scale(0.86,1)" font-size="9">VSS</text>
<text class="t" transform="translate(759.5,156.3) scale(0.86,1)" font-size="9" text-anchor="end">VDD</text>
<text class="t" transform="translate(626.5,151.8) scale(0.9,1)" font-size="9" text-anchor="end">5</text>
<text class="t" transform="translate(764.5,151.8) scale(0.9,1)" font-size="9">17</text>
<line x1="617.5" y1="165.5" x2="630.5" y2="165.5"/>
<line x1="760.5" y1="165.5" x2="773.5" y2="165.5"/>
<text class="t" transform="translate(632,168.3) scale(0.86,1)" font-size="9">OSC1</text>
<text class="t" transform="translate(759.5,168.3) scale(0.86,1)" font-size="9" text-anchor="end">VSS</text>
<text class="t" transform="translate(626.5,163.8) scale(0.9,1)" font-size="9" text-anchor="end">6</text>
<text class="t" transform="translate(764.5,163.8) scale(0.9,1)" font-size="9">16</text>
<line x1="617.5" y1="177.5" x2="630.5" y2="177.5"/>
<line x1="760.5" y1="177.5" x2="773.5" y2="177.5"/>
<text class="t" transform="translate(632,180.3) scale(0.86,1)" font-size="9">OSC2</text>
<text class="t" transform="translate(759.5,180.3) scale(0.86,1)" font-size="9" text-anchor="end">RC7</text>
<text class="t" transform="translate(626.5,175.8) scale(0.9,1)" font-size="9" text-anchor="end">7</text>
<text class="t" transform="translate(764.5,175.8) scale(0.9,1)" font-size="9">15</text>
<text class="t" transform="translate(755.5,188) scale(0.86,1)" font-size="9" text-anchor="end">RX</text>
<line x1="659.5" y1="63.5" x2="659.5" y2="76.5"/>
<text class="t" transform="translate(658.5,63.7) rotate(-90) scale(0.9,1)" font-size="9" text-anchor="end">28</text>
<text class="t" transform="translate(663.5,78.6) rotate(-90) scale(0.75,1)" font-size="10" text-anchor="end">RA1</text>
<line x1="671.5" y1="63.5" x2="671.5" y2="76.5"/>
<text class="t" transform="translate(670.1,63.7) rotate(-90) scale(0.9,1)" font-size="9" text-anchor="end">27</text>
<text class="t" transform="translate(675.1,78.6) rotate(-90) scale(0.75,1)" font-size="10" text-anchor="end">RA0</text>
<line x1="682.5" y1="63.5" x2="682.5" y2="76.5"/>
<text class="t" transform="translate(681.5,63.7) rotate(-90) scale(0.9,1)" font-size="9" text-anchor="end">26</text>
<text class="t" transform="translate(687.5,78.6) rotate(-90) scale(0.78,1)" font-size="9.8" text-anchor="end">MCLR</text>
<line x1="695.5" y1="63.5" x2="695.5" y2="76.5"/>
<text class="t" transform="translate(694.4,63.7) rotate(-90) scale(0.9,1)" font-size="9" text-anchor="end">25</text>
<text class="t" transform="translate(699.4,78.6) rotate(-90) scale(0.75,1)" font-size="10" text-anchor="end">RB7</text>
<line x1="707.5" y1="63.5" x2="707.5" y2="76.5"/>
<text class="t" transform="translate(706.2,63.7) rotate(-90) scale(0.9,1)" font-size="9" text-anchor="end">24</text>
<text class="t" transform="translate(711.2,78.6) rotate(-90) scale(0.75,1)" font-size="10" text-anchor="end">RB6</text>
<line x1="718.5" y1="63.5" x2="718.5" y2="76.5"/>
<text class="t" transform="translate(717.4,63.7) rotate(-90) scale(0.9,1)" font-size="9" text-anchor="end">23</text>
<text class="t" transform="translate(722.4,78.6) rotate(-90) scale(0.75,1)" font-size="10" text-anchor="end">RB5</text>
<line x1="730.5" y1="63.5" x2="730.5" y2="76.5"/>
<text class="t" transform="translate(728.9,63.7) rotate(-90) scale(0.9,1)" font-size="9" text-anchor="end">22</text>
<text class="t" transform="translate(733.9,78.6) rotate(-90) scale(0.75,1)" font-size="10" text-anchor="end">RB4</text>
<line x1="679.5" y1="77.5" x2="679.5" y2="98.5"/>
<line x1="659.5" y1="206.5" x2="659.5" y2="219.5"/>
<text class="t" transform="translate(657.8,218.3) rotate(-90) scale(0.9,1)" font-size="9">8</text>
<text class="t" transform="translate(663,205.5) rotate(-90) scale(0.78,1)" font-size="9.8">RC0</text>
<line x1="671.5" y1="206.5" x2="671.5" y2="219.5"/>
<text class="t" transform="translate(669.4,218.3) rotate(-90) scale(0.9,1)" font-size="9">9</text>
<text class="t" transform="translate(674.6,205.5) rotate(-90) scale(0.78,1)" font-size="9.8">RC1</text>
<line x1="683.5" y1="206.5" x2="683.5" y2="219.5"/>
<text class="t" transform="translate(681.4,218.3) rotate(-90) scale(0.9,1)" font-size="9">10</text>
<text class="t" transform="translate(686.6,205.5) rotate(-90) scale(0.78,1)" font-size="9.8">RC2</text>
<line x1="695.5" y1="206.5" x2="695.5" y2="219.5"/>
<text class="t" transform="translate(693.4,218.3) rotate(-90) scale(0.9,1)" font-size="9">11</text>
<text class="t" transform="translate(698.6,205.5) rotate(-90) scale(0.78,1)" font-size="9.8">VUSB</text>
<line x1="707.5" y1="206.5" x2="707.5" y2="219.5"/>
<text class="t" transform="translate(705.4,218.3) rotate(-90) scale(0.9,1)" font-size="9">12</text>
<text class="t" transform="translate(710.6,205.5) rotate(-90) scale(0.78,1)" font-size="9.8">RC4</text>
<line x1="718.5" y1="206.5" x2="718.5" y2="219.5"/>
<text class="t" transform="translate(716.8,218.3) rotate(-90) scale(0.9,1)" font-size="9">13</text>
<text class="t" transform="translate(722,205.5) rotate(-90) scale(0.78,1)" font-size="9.8">RC5</text>
<line x1="729.5" y1="206.5" x2="729.5" y2="219.5"/>
<text class="t" transform="translate(727.9,218.3) rotate(-90) scale(0.9,1)" font-size="9">14</text>
<text class="t" transform="translate(733.1,205.5) rotate(-90) scale(0.78,1)" font-size="9.8">RC6</text>
<text class="t" transform="translate(741.2,199.3) rotate(-90) scale(0.8,1)" font-size="9.4">TX</text>
<polygon points="590.5,148.5 606.9,148.5 609.5,153.5 606.9,158.5 590.5,158.5"/>
<text class="b" x="591.13" y="156.5" font-size="8.7" textLength="14.64" lengthAdjust="spacingAndGlyphs">GND</text>
<line x1="609.5" y1="153.5" x2="617.5" y2="153.5"/>
<polygon points="570.5,160.5 606.9,160.5 609.5,165.5 606.9,170.5 570.5,170.5"/>
<text class="b" x="571.13" y="168.5" font-size="8.7" textLength="34.64" lengthAdjust="spacingAndGlyphs">U2_OSC1</text>
<line x1="609.5" y1="165.5" x2="617.5" y2="165.5"/>
<polygon points="570.5,172.5 606.9,172.5 609.5,177.5 606.9,182.5 570.5,182.5"/>
<text class="b" x="571.13" y="180.5" font-size="8.7" textLength="34.64" lengthAdjust="spacingAndGlyphs">U2_OSC2</text>
<line x1="609.5" y1="177.5" x2="617.5" y2="177.5"/>
<polygon points="784.1,148.5 799.5,148.5 799.5,158.5 784.1,158.5 781.5,153.5"/>
<text class="b" x="784.03" y="156.5" font-size="8.7" textLength="14.14" lengthAdjust="spacingAndGlyphs">VDD</text>
<line x1="773.5" y1="153.5" x2="781.5" y2="153.5"/>
<polygon points="784.1,160.5 800.5,160.5 800.5,170.5 784.1,170.5 781.5,165.5"/>
<text class="b" x="784.03" y="168.5" font-size="8.7" textLength="15.14" lengthAdjust="spacingAndGlyphs">GND</text>
<line x1="773.5" y1="165.5" x2="781.5" y2="165.5"/>
<polygon points="781.1,172.5 812.5,172.5 812.5,182.5 781.1,182.5 778.5,177.5"/>
<text class="b" x="781.03" y="180.5" font-size="8.7" textLength="30.14" lengthAdjust="spacingAndGlyphs">USB_TX</text>
<line x1="773.5" y1="177.5" x2="778.5" y2="177.5"/>
<polygon points="644.5,7.5 660.9,7.5 663.5,11.5 660.9,15.5 644.5,15.5"/>
<text class="b" x="645.17" y="14.25" font-size="7.97" textLength="14.56" lengthAdjust="spacingAndGlyphs">VDD</text>
<polyline points="663.5,11.5 682.5,11.5 682.5,23.5"/>
<polyline points="682.5,23.5 685.5,24.5 679.5,27.5 685.5,30.5 679.5,33.5 685.5,36.5 679.5,39.5 682.5,40.5"/>
<line x1="682.5" y1="40.5" x2="682.5" y2="63.5"/>
<circle cx="682.9" cy="52.1" r="1.3" class="k"/>
<polygon points="644.5,48.5 660.9,48.5 663.5,53.5 660.9,57.5 644.5,57.5"/>
<text class="b" x="645.13" y="56" font-size="8.7" textLength="14.64" lengthAdjust="spacingAndGlyphs">VPP</text>
<line x1="663.5" y1="52.5" x2="682.5" y2="52.5"/>
<text class="t" x="667.16" y="32.25" font-size="8.12" textLength="10.37" lengthAdjust="spacingAndGlyphs">R7</text>
<text class="t" x="663.78" y="40.85" font-size="9.42" textLength="15.73" lengthAdjust="spacingAndGlyphs">10K</text>
<polygon points="690.5,19.5 700.5,19.5 700.5,53.9 695.5,56.5 690.5,53.9"/>
<text class="b" transform="translate(698.1,52.85) rotate(-90)" x="-0.45" y="0" font-size="7.54" textLength="33" lengthAdjust="spacingAndGlyphs">ICSPDATA</text>
<line x1="695.5" y1="56.5" x2="695.5" y2="63.5"/>
<polygon points="702.5,22.5 712.5,22.5 712.5,53.9 707.5,56.5 702.5,53.9"/>
<text class="b" transform="translate(710.1,52.85) rotate(-90)" x="-0.45" y="0" font-size="7.54" textLength="30" lengthAdjust="spacingAndGlyphs">ICSPCLK</text>
<line x1="707.5" y1="56.5" x2="707.5" y2="63.5"/>
<polygon points="808.1,71.5 823.5,71.5 823.5,81.5 808.1,81.5 805.5,76.5"/>
<text class="b" x="808.03" y="79.5" font-size="8.7" textLength="14.14" lengthAdjust="spacingAndGlyphs">VDD</text>
<polyline points="805.5,76.5 795.5,76.5 795.5,100.5"/>
<line x1="786.5" y1="100.5" x2="804.5" y2="100.5"/>
<line x1="786.5" y1="106.5" x2="804.5" y2="106.5"/>
<line x1="795.5" y1="106.5" x2="795.5" y2="123.5"/>
<line x1="787.5" y1="123.5" x2="803.5" y2="123.5"/>
<line x1="790.5" y1="127.5" x2="800.5" y2="127.5"/>
<line x1="792.5" y1="130.5" x2="797.5" y2="130.5"/>
<text class="t" x="808.32" y="101.55" font-size="8.84" textLength="11.86" lengthAdjust="spacingAndGlyphs">C9</text>
<text class="t" x="808.29" y="110.05" font-size="9.28" textLength="26.11" lengthAdjust="spacingAndGlyphs">100nF</text>
<line x1="670.5" y1="235.5" x2="684.5" y2="235.5"/>
<line x1="677.5" y1="235.5" x2="677.5" y2="259.5"/>
<circle cx="677.7" cy="247.7" r="1.3" class="k"/>
<polyline points="677.5,247.5 695.5,247.5 695.5,219.5"/>
<line x1="668.5" y1="259.5" x2="687.5" y2="259.5"/>
<line x1="668.5" y1="265.5" x2="687.5" y2="265.5"/>
<line x1="677.5" y1="265.5" x2="677.5" y2="282.5"/>
<line x1="670.5" y1="282.5" x2="685.5" y2="282.5"/>
<line x1="672.5" y1="286.5" x2="682.5" y2="286.5"/>
<line x1="675.5" y1="290.5" x2="679.5" y2="290.5"/>
<text class="t" x="664.58" y="233.85" font-size="9.57" textLength="25.35" lengthAdjust="spacingAndGlyphs">+3.3V</text>
<text class="t" x="647.13" y="261.35" font-size="8.7" textLength="17.74" lengthAdjust="spacingAndGlyphs">C13</text>
<text class="t" x="639.11" y="269.85" font-size="8.99" textLength="25.78" lengthAdjust="spacingAndGlyphs">100nF</text>
<line x1="707.5" y1="219.5" x2="707.5" y2="224.5"/>
<line x1="718.5" y1="219.5" x2="718.5" y2="224.5"/>
<line x1="729.5" y1="219.5" x2="729.5" y2="224.5"/>
<polygon points="708.5,223.5 713.5,225.3 713.5,259.5 702.5,259.5 702.5,225.3"/>
<text class="b" transform="translate(710.83,258.95) rotate(-90)" x="-0.49" y="0" font-size="8.19" textLength="32.78" lengthAdjust="spacingAndGlyphs">USB_D−</text>
<polygon points="719.5,223.5 724.5,225.3 724.5,259.5 714.5,259.5 714.5,225.3"/>
<text class="b" transform="translate(722.1,258.95) rotate(-90)" x="-0.45" y="0" font-size="7.54" textLength="32.7" lengthAdjust="spacingAndGlyphs">USB_D+</text>
<polygon points="731.5,223.5 736.5,225.3 736.5,259.5 726.5,259.5 726.5,225.3"/>
<text class="b" transform="translate(734.1,258.95) rotate(-90)" x="-0.45" y="0" font-size="7.54" textLength="32.7" lengthAdjust="spacingAndGlyphs">USB_RX</text>
<line x1="701.5" y1="260.5" x2="736.5" y2="260.5"/>
<line x1="665.5" y1="324.5" x2="695.5" y2="324.5"/>
<polyline points="695.5,324.5 696.5,321.5 699.5,327.5 702.5,321.5 705.5,327.5 708.5,321.5 711.5,327.5 713.5,324.5"/>
<line x1="713.5" y1="324.5" x2="748.5" y2="324.5"/>
<line x1="665.5" y1="324.5" x2="665.5" y2="377.5"/>
<line x1="748.5" y1="324.5" x2="748.5" y2="377.5"/>
<text class="t" x="683.75" y="322.35" font-size="8.26" textLength="12.09" lengthAdjust="spacingAndGlyphs">R6</text>
<text class="t" x="713.15" y="322.35" font-size="8.26" textLength="11.69" lengthAdjust="spacingAndGlyphs">1M</text>
<polygon points="617.5,355.5 653.9,355.5 656.5,360.5 653.9,365.5 617.5,365.5"/>
<text class="b" x="618.13" y="363.5" font-size="8.7" textLength="34.64" lengthAdjust="spacingAndGlyphs">U2_OSC1</text>
<line x1="656.5" y1="360.5" x2="701.5" y2="360.5"/>
<line x1="701.5" y1="354.5" x2="701.5" y2="366.5"/>
<rect x="703.5" y="354.5" width="7" height="12"/>
<line x1="712.5" y1="354.5" x2="712.5" y2="366.5"/>
<line x1="712.5" y1="360.5" x2="764.5" y2="360.5"/>
<polygon points="767.1,355.5 802.5,355.5 802.5,365.5 767.1,365.5 764.5,360.5"/>
<text class="b" x="767.03" y="363.5" font-size="8.7" textLength="34.14" lengthAdjust="spacingAndGlyphs">U2_OSC2</text>
<circle cx="665.9" cy="360.2" r="1.3" class="k"/>
<circle cx="748.3" cy="360.2" r="1.3" class="k"/>
<text class="t" x="701.14" y="343.35" font-size="8.55" textLength="11.73" lengthAdjust="spacingAndGlyphs">Y2</text>
<text class="t" x="689.07" y="352.35" font-size="9.71" textLength="35.87" lengthAdjust="spacingAndGlyphs">20.0MHz</text>
<line x1="655.5" y1="377.5" x2="676.5" y2="377.5"/>
<line x1="655.5" y1="384.5" x2="676.5" y2="384.5"/>
<line x1="665.5" y1="384.5" x2="665.5" y2="400.5"/>
<line x1="658.5" y1="400.5" x2="673.5" y2="400.5"/>
<line x1="660.5" y1="404.5" x2="670.5" y2="404.5"/>
<line x1="663.5" y1="407.5" x2="668.5" y2="407.5"/>
<text class="t" x="636.07" y="379.35" font-size="9.71" textLength="16.87" lengthAdjust="spacingAndGlyphs">C14</text>
<text class="t" x="631.11" y="387.85" font-size="8.99" textLength="21.78" lengthAdjust="spacingAndGlyphs">20pF</text>
<line x1="738.5" y1="377.5" x2="758.5" y2="377.5"/>
<line x1="738.5" y1="384.5" x2="758.5" y2="384.5"/>
<line x1="748.5" y1="384.5" x2="748.5" y2="400.5"/>
<line x1="740.5" y1="400.5" x2="756.5" y2="400.5"/>
<line x1="743.5" y1="404.5" x2="753.5" y2="404.5"/>
<line x1="745.5" y1="407.5" x2="750.5" y2="407.5"/>
<text class="t" x="761.57" y="379.35" font-size="9.71" textLength="17.37" lengthAdjust="spacingAndGlyphs">C15</text>
<text class="t" x="761.11" y="387.85" font-size="8.99" textLength="21.78" lengthAdjust="spacingAndGlyphs">20pF</text>
<polyline points="695.5,377.5 695.5,372.5 718.5,372.5 718.5,377.5"/>
<line x1="687.5" y1="377.5" x2="702.5" y2="377.5"/>
<line x1="690.5" y1="381.5" x2="699.5" y2="381.5"/>
<line x1="693.5" y1="384.5" x2="697.5" y2="384.5"/>
<line x1="710.5" y1="377.5" x2="726.5" y2="377.5"/>
<line x1="713.5" y1="381.5" x2="722.5" y2="381.5"/>
<line x1="716.5" y1="384.5" x2="720.5" y2="384.5"/>
<line x1="7.5" y1="360.5" x2="161.5" y2="360.5" stroke-dasharray="10 6.5" stroke-dashoffset="3"/>
<line x1="7.5" y1="508.5" x2="161.5" y2="508.5" stroke-dasharray="10 6.5" stroke-dashoffset="3"/>
<line x1="7.5" y1="360.5" x2="7.5" y2="508.5" stroke-dasharray="10 6.5" stroke-dashoffset="3"/>
<line x1="161.5" y1="360.5" x2="161.5" y2="508.5" stroke-dasharray="10 6.5" stroke-dashoffset="3"/>
<text class="t" x="11.99" y="377.55" font-size="9.28" textLength="144.61" lengthAdjust="spacingAndGlyphs">ICD2 PROGRAM CONNECTOR FOR U1</text>
<text class="t" x="21.34" y="387.15" font-size="8.55" textLength="109.93" lengthAdjust="spacingAndGlyphs">dsPIC30F/dsPIC33F/PIC24</text>
<text class="t" x="43.25" y="405.45" font-size="8.26" textLength="11.29" lengthAdjust="spacingAndGlyphs">J4</text>
<rect x="19.5" y="407.5" width="59" height="83"/>
<text class="t" transform="translate(77.3,423.3) scale(0.9,1)" font-size="9.8" text-anchor="end">VPP</text>
<text class="t" transform="translate(82.6,418.5) scale(0.9,1)" font-size="10.6">1</text>
<text class="t" transform="translate(77.3,434.8) scale(0.9,1)" font-size="9.8" text-anchor="end">VDD</text>
<text class="t" transform="translate(82.6,430) scale(0.9,1)" font-size="10.6">2</text>
<text class="t" transform="translate(77.3,446.6) scale(0.9,1)" font-size="9.8" text-anchor="end">VSS</text>
<text class="t" transform="translate(82.6,441.8) scale(0.9,1)" font-size="10.6">3</text>
<text class="t" transform="translate(77.3,458.8) scale(0.9,1)" font-size="9.8" text-anchor="end">ICSP_DATA</text>
<text class="t" transform="translate(82.6,454) scale(0.9,1)" font-size="10.6">4</text>
<text class="t" transform="translate(77.3,470.4) scale(0.9,1)" font-size="9.8" text-anchor="end">ICSP_CLOCK</text>
<text class="t" transform="translate(82.6,465.6) scale(0.9,1)" font-size="10.6">5</text>
<text class="t" transform="translate(77.3,482) scale(0.9,1)" font-size="9.8" text-anchor="end">NC</text>
<text class="t" transform="translate(82.6,477.2) scale(0.9,1)" font-size="10.6">6</text>
<line x1="78.5" y1="419.5" x2="100.5" y2="419.5"/>
<line x1="78.5" y1="431.5" x2="100.5" y2="431.5"/>
<line x1="78.5" y1="455.5" x2="100.5" y2="455.5"/>
<line x1="78.5" y1="466.5" x2="100.5" y2="466.5"/>
<line x1="78.5" y1="478.5" x2="97.5" y2="478.5"/>
<polygon points="103.1,415.5 123.5,415.5 123.5,424.5 103.1,424.5 100.5,420.5"/>
<text class="b" x="103.03" y="423" font-size="8.7" textLength="19.14" lengthAdjust="spacingAndGlyphs">MCLR</text>
<line x1="104.5" y1="416.5" x2="120.5" y2="416.5"/>
<polygon points="103.1,427.5 116.5,427.5 116.5,435.5 103.1,435.5 100.5,431.5"/>
<text class="b" x="103.07" y="434.25" font-size="7.97" textLength="12.06" lengthAdjust="spacingAndGlyphs">VDD</text>
<polygon points="103.1,451.5 123.5,451.5 123.5,459.5 103.1,459.5 100.5,455.5"/>
<text class="b" x="103.07" y="458.25" font-size="7.97" textLength="19.06" lengthAdjust="spacingAndGlyphs">EMUD</text>
<polygon points="103.1,462.5 123.5,462.5 123.5,471.5 103.1,471.5 100.5,467.5"/>
<text class="b" x="103.03" y="470" font-size="8.7" textLength="19.14" lengthAdjust="spacingAndGlyphs">EMUC</text>
<polyline points="78.5,443.5 126.5,443.5 126.5,437.5 137.5,437.5 137.5,443.5"/>
<line x1="129.5" y1="443.5" x2="146.5" y2="443.5"/>
<line x1="133.5" y1="446.5" x2="142.5" y2="446.5"/>
<line x1="136.5" y1="450.5" x2="139.5" y2="450.5"/>
<text class="t" x="25.7" y="499.35" font-size="9.13" textLength="47.2" lengthAdjust="spacingAndGlyphs">RJ11−6PIN</text>
<line x1="173.5" y1="366.5" x2="327.5" y2="366.5" stroke-dasharray="10 6.5" stroke-dashoffset="3"/>
<line x1="173.5" y1="509.5" x2="327.5" y2="509.5" stroke-dasharray="10 6.5" stroke-dashoffset="3"/>
<line x1="173.5" y1="366.5" x2="173.5" y2="509.5" stroke-dasharray="10 6.5" stroke-dashoffset="3"/>
<line x1="327.5" y1="366.5" x2="327.5" y2="509.5" stroke-dasharray="10 6.5" stroke-dashoffset="3"/>
<text class="t" x="201.37" y="381.65" font-size="9.71" textLength="85.57" lengthAdjust="spacingAndGlyphs">USB PC CONNECTION</text>
<text class="t" x="197.11" y="405.35" font-size="8.99" textLength="10.78" lengthAdjust="spacingAndGlyphs">J3</text>
<rect x="191.5" y="407.5" width="24" height="83"/>
<text class="t" transform="translate(214,422.4) scale(0.86,1)" font-size="9" text-anchor="end">VDD</text>
<text class="t" transform="translate(218.8,417.8) scale(0.9,1)" font-size="10.6">1</text>
<text class="t" transform="translate(214,434.4) scale(0.86,1)" font-size="9" text-anchor="end">D−</text>
<text class="t" transform="translate(218.8,429.8) scale(0.9,1)" font-size="10.6">2</text>
<text class="t" transform="translate(214,446.4) scale(0.86,1)" font-size="9" text-anchor="end">D+</text>
<text class="t" transform="translate(218.8,441.8) scale(0.9,1)" font-size="10.6">3</text>
<text class="t" transform="translate(214,458.2) scale(0.86,1)" font-size="9" text-anchor="end">GND</text>
<text class="t" transform="translate(218.8,453.6) scale(0.9,1)" font-size="10.6">4</text>
<text class="t" transform="translate(214,470.2) scale(0.86,1)" font-size="9" text-anchor="end">MT1</text>
<text class="t" transform="translate(218.8,465.6) scale(0.9,1)" font-size="10.6">5</text>
<text class="t" transform="translate(214,482.2) scale(0.86,1)" font-size="9" text-anchor="end">MT2</text>
<text class="t" transform="translate(218.8,477.6) scale(0.9,1)" font-size="10.6">6</text>
<line x1="215.5" y1="419.5" x2="238.5" y2="419.5"/>
<path d="M238.5,419.5 V416.5 A4,3.2 0 0 1 246.5,416.5 V419.5 M246.5,416.5 A4,3.2 0 0 1 254.5,416.5 V419.5 M254.5,416.5 A4,3.2 0 0 1 262.5,416.5 V419.5"/>
<line x1="262.5" y1="419.5" x2="274.5" y2="419.5"/>
<text class="t" x="245.14" y="411.35" font-size="8.55" textLength="11.73" lengthAdjust="spacingAndGlyphs">L1</text>
<polygon points="277.1,414.5 314.5,414.5 314.5,424.5 277.1,424.5 274.5,419.5"/>
<text class="b" x="277.03" y="422.5" font-size="8.7" textLength="36.14" lengthAdjust="spacingAndGlyphs">USB_+5V</text>
<line x1="215.5" y1="431.5" x2="244.5" y2="431.5"/>
<polygon points="247.1,426.5 280.5,426.5 280.5,436.5 247.1,436.5 244.5,431.5"/>
<text class="b" x="247.03" y="434.5" font-size="8.7" textLength="32.14" lengthAdjust="spacingAndGlyphs">USB_D−</text>
<line x1="215.5" y1="443.5" x2="244.5" y2="443.5"/>
<polygon points="247.1,438.5 280.5,438.5 280.5,448.5 247.1,448.5 244.5,443.5"/>
<text class="b" x="247.03" y="446.5" font-size="8.7" textLength="32.14" lengthAdjust="spacingAndGlyphs">USB_D+</text>
<line x1="215.5" y1="454.5" x2="244.5" y2="454.5"/>
<line x1="215.5" y1="466.5" x2="244.5" y2="466.5"/>
<line x1="215.5" y1="478.5" x2="244.5" y2="478.5"/>
<line x1="244.5" y1="454.5" x2="244.5" y2="490.5"/>
<circle cx="244.5" cy="466.8" r="1.3" class="k"/>
<circle cx="244.5" cy="478.8" r="1.3" class="k"/>
<line x1="238.5" y1="490.5" x2="251.5" y2="490.5"/>
<line x1="240.5" y1="493.5" x2="248.5" y2="493.5"/>
<line x1="242.5" y1="497.5" x2="246.5" y2="497.5"/>
<text class="t" x="193.9" y="499.35" font-size="9.13" textLength="19" lengthAdjust="spacingAndGlyphs">USB</text>
<text class="t" x="335.54" y="395.25" font-size="6.81" textLength="57.22" lengthAdjust="spacingAndGlyphs">CONN_PICKIT2_RA</text>
<rect x="340.5" y="401.5" width="42" height="77"/>
<text class="n" transform="translate(381.3,415.8) scale(0.98,1)" font-size="5.8" text-anchor="end">MCLR</text>
<text class="t" transform="translate(385.8,418.8) scale(0.95,1)" font-size="6.6">1</text>
<text class="n" transform="translate(381.3,428.1) scale(0.98,1)" font-size="5.8" text-anchor="end">VDD</text>
<text class="t" transform="translate(385.8,431.1) scale(0.95,1)" font-size="6.6">2</text>
<text class="n" transform="translate(381.3,440.1) scale(0.98,1)" font-size="5.8" text-anchor="end">VSS</text>
<text class="t" transform="translate(385.8,443.1) scale(0.95,1)" font-size="6.6">3</text>
<text class="n" transform="translate(381.3,451.8) scale(0.98,1)" font-size="5.8" text-anchor="end">ICSP_DATA</text>
<text class="t" transform="translate(385.8,454.8) scale(0.95,1)" font-size="6.6">4</text>
<text class="n" transform="translate(381.3,463.8) scale(0.98,1)" font-size="5.8" text-anchor="end">ICSP_CLOCK</text>
<text class="t" transform="translate(385.8,466.8) scale(0.95,1)" font-size="6.6">5</text>
<text class="t" transform="translate(385.8,476.8) scale(0.95,1)" font-size="6.6">6</text>
<line x1="382.5" y1="413.5" x2="397.5" y2="413.5"/>
<line x1="382.5" y1="425.5" x2="397.5" y2="425.5"/>
<line x1="382.5" y1="449.5" x2="397.5" y2="449.5"/>
<line x1="382.5" y1="461.5" x2="397.5" y2="461.5"/>
<line x1="382.5" y1="471.5" x2="389.5" y2="471.5"/>
<line x1="366.5" y1="409.5" x2="381.5" y2="409.5"/>
<polygon points="400.1,410.5 420.5,410.5 420.5,418.5 400.1,418.5 397.5,414.5"/>
<text class="b" x="400.07" y="417.25" font-size="7.97" textLength="19.06" lengthAdjust="spacingAndGlyphs">MCLR</text>
<line x1="401.5" y1="410.5" x2="419.5" y2="410.5"/>
<polygon points="400.1,421.5 415.5,421.5 415.5,430.5 400.1,430.5 397.5,426.5"/>
<text class="b" x="400.03" y="429" font-size="8.7" textLength="14.14" lengthAdjust="spacingAndGlyphs">VDD</text>
<polygon points="400.1,445.5 420.5,445.5 420.5,453.5 400.1,453.5 397.5,449.5"/>
<text class="b" x="400.07" y="452.25" font-size="7.97" textLength="19.06" lengthAdjust="spacingAndGlyphs">EMUD</text>
<polygon points="400.1,457.5 420.5,457.5 420.5,465.5 400.1,465.5 397.5,461.5"/>
<text class="b" x="400.07" y="464.25" font-size="7.97" textLength="19.06" lengthAdjust="spacingAndGlyphs">EMUC</text>
<polyline points="382.5,437.5 435.5,437.5 435.5,443.5"/>
<line x1="427.5" y1="443.5" x2="443.5" y2="443.5"/>
<line x1="430.5" y1="447.5" x2="439.5" y2="447.5"/>
<line x1="433.5" y1="450.5" x2="437.5" y2="450.5"/>
<text class="t" x="360.69" y="484.65" font-size="5.94" textLength="7.01" lengthAdjust="spacingAndGlyphs">J6</text>
<line x1="470.5" y1="413.5" x2="642.5" y2="413.5" stroke-dasharray="10 6.5" stroke-dashoffset="3"/>
<line x1="470.5" y1="502.5" x2="642.5" y2="502.5" stroke-dasharray="10 6.5" stroke-dashoffset="3"/>
<line x1="470.5" y1="413.5" x2="470.5" y2="502.5" stroke-dasharray="10 6.5" stroke-dashoffset="3"/>
<line x1="642.5" y1="413.5" x2="642.5" y2="502.5" stroke-dasharray="10 6.5" stroke-dashoffset="3"/>
<text class="t" x="506.27" y="424.55" font-size="9.71" textLength="103.47" lengthAdjust="spacingAndGlyphs">PICKIT 2 PLUNGE HEADER</text>
<text class="t" x="512.68" y="434.75" font-size="9.42" textLength="93.53" lengthAdjust="spacingAndGlyphs">FOR U2 – PIC18F2550</text>
<text class="t" x="555.89" y="447.05" font-size="9.28" textLength="11.01" lengthAdjust="spacingAndGlyphs">J5</text>
<rect x="541.5" y="449.5" width="42" height="35"/>
<text class="t" transform="translate(543,458.7) scale(0.86,1)" font-size="9.8">VPP</text>
<text class="t" transform="translate(582,458.7) scale(0.86,1)" font-size="9.8" text-anchor="end">VDD</text>
<text class="n" transform="translate(538.6,453.7) scale(0.85,1)" font-size="7.6" text-anchor="end">1</text>
<text class="n" transform="translate(585.5,453.7) scale(0.85,1)" font-size="7.6">2</text>
<text class="t" transform="translate(543,470.3) scale(0.86,1)" font-size="9.8">GND</text>
<text class="t" transform="translate(582,470.3) scale(0.86,1)" font-size="9.8" text-anchor="end">DAT</text>
<text class="n" transform="translate(538.6,465.3) scale(0.85,1)" font-size="7.6" text-anchor="end">3</text>
<text class="n" transform="translate(585.5,465.3) scale(0.85,1)" font-size="7.6">4</text>
<text class="t" transform="translate(543,482.2) scale(0.86,1)" font-size="9.8">CLK</text>
<text class="t" transform="translate(582,482.2) scale(0.86,1)" font-size="9.8" text-anchor="end">NC</text>
<text class="n" transform="translate(538.6,477.2) scale(0.85,1)" font-size="7.6" text-anchor="end">5</text>
<text class="n" transform="translate(585.5,477.2) scale(0.85,1)" font-size="7.6">6</text>
<line x1="526.5" y1="455.5" x2="541.5" y2="455.5"/>
<line x1="526.5" y1="478.5" x2="541.5" y2="478.5"/>
<polyline points="541.5,466.5 482.5,466.5 482.5,472.5"/>
<line x1="475.5" y1="472.5" x2="489.5" y2="472.5"/>
<line x1="477.5" y1="476.5" x2="486.5" y2="476.5"/>
<line x1="480.5" y1="479.5" x2="484.5" y2="479.5"/>
<line x1="583.5" y1="455.5" x2="597.5" y2="455.5"/>
<line x1="583.5" y1="466.5" x2="597.5" y2="466.5"/>
<line x1="583.5" y1="478.5" x2="591.5" y2="478.5"/>
<polygon points="508.5,451.5 523.9,451.5 526.5,455.5 523.9,459.5 508.5,459.5"/>
<text class="b" x="509.17" y="458.25" font-size="7.97" textLength="13.56" lengthAdjust="spacingAndGlyphs">VPP</text>
<polygon points="493.5,474.5 523.9,474.5 526.5,478.5 523.9,482.5 493.5,482.5"/>
<text class="b" x="494.17" y="481.25" font-size="7.97" textLength="28.56" lengthAdjust="spacingAndGlyphs">ICSPCLK</text>
<polygon points="600.1,451.5 616.5,451.5 616.5,459.5 600.1,459.5 597.5,455.5"/>
<text class="b" x="600.07" y="458.25" font-size="7.97" textLength="15.06" lengthAdjust="spacingAndGlyphs">VDD</text>
<polygon points="600.1,462.5 634.5,462.5 634.5,471.5 600.1,471.5 597.5,467.5"/>
<text class="b" x="600.03" y="470" font-size="8.7" textLength="33.14" lengthAdjust="spacingAndGlyphs">ICSPDATA</text>
<text class="t" x="544.99" y="494.95" font-size="11.01" textLength="35.02" lengthAdjust="spacingAndGlyphs">PLUNGE</text>
</svg>
</body></html>
